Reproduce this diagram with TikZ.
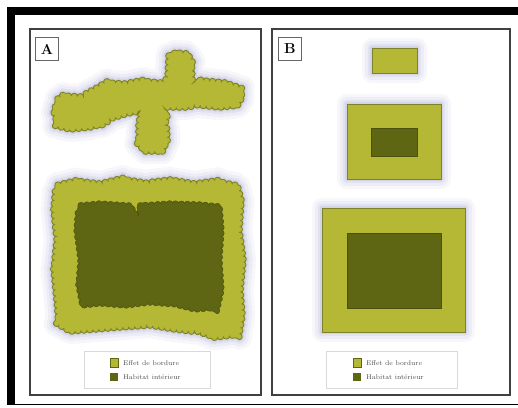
\documentclass[tikz,border=0pt]{standalone}
\usetikzlibrary{decorations.pathmorphing}
\definecolor{lightol}{HTML}{B4B834}
\definecolor{darkol}{HTML}{5E6614}
\definecolor{edgeol}{HTML}{7E8228}
\definecolor{glow}{HTML}{B4B4DA}
\tikzset{
  glowy/.style={
    preaction={draw=glow,line width=20pt,opacity=0.10,line join=round},
    preaction={draw=glow,line width=14pt,opacity=0.14,line join=round},
    preaction={draw=glow,line width=8pt,opacity=0.2,line join=round},
    preaction={draw=glow,line width=4pt,opacity=0.28,line join=round}},
  bumpy/.style={decorate,decoration={bumps,segment length=12pt,amplitude=2.4pt}},
  blob/.style={glowy,fill=lightol,draw=edgeol,line width=0.9pt},
  innerblob/.style={fill=darkol,draw=darkol!80!black,line width=0.5pt},
  rectout/.style={glowy,fill=lightol,draw=edgeol,line width=0.9pt},
  rectin/.style={fill=darkol,draw=darkol!80!black,line width=0.5pt},
  panel/.style={draw=black!75,line width=2pt},
  lettbox/.style={draw=black!60,line width=1.2pt,minimum width=23pt,minimum height=23pt,inner sep=0pt,font=\bfseries\Large},
  legbox/.style={draw=black!15,line width=0.6pt,fill=white},
  legsq/.style={minimum width=8pt,minimum height=8.5pt,inner sep=0pt},
  legtxt/.style={font=\fontsize{6.8}{7.5}\selectfont,text=black!70,anchor=west,inner sep=0pt}
}
\begin{document}
\begin{tikzpicture}[x=1pt,y=-1pt]
\useasboundingbox (0,0) rectangle (518,407);
\fill[white] (0,0) rectangle (518,407);
% outer black frame
\fill[black] (7,7) rectangle (518,15);
\fill[black] (7,7) rectangle (15,405);
\draw[black,line width=1.5pt] (15,404.5) -- (518,404.5);
% panels
\draw[panel] (30,29) rectangle (261,395);
\draw[panel] (272,29) rectangle (510,395);
\node[lettbox] (la) at (47,49) {A};
\node[lettbox] (lb) at (290,49) {B};
% ---- Panel A shapes
\path[blob,bumpy] (55,100) -- (62,95) -- (80,96) -- (95,88) -- (105,82) -- (125,83) -- (140,80) -- (160,82) -- (167,78) -- (168,58) -- (175,52) -- (188,53) -- (192,60) -- (193,78) -- (205,80) -- (225,82) -- (240,87) -- (243,97) -- (238,106) -- (220,108) -- (200,106) -- (185,108) -- (170,108) -- (167,120) -- (168,140) -- (163,152) -- (145,152) -- (138,145) -- (138,125) -- (140,112) -- (128,114) -- (115,118) -- (105,124) -- (90,128) -- (70,130) -- (58,127) -- (54,115) -- cycle;
\path[blob,bumpy] (55,185) -- (75,180) -- (100,183) -- (120,178) -- (145,182) -- (170,179) -- (195,183) -- (215,180) -- (238,185) -- (242,200) -- (240,230) -- (244,260) -- (241,290) -- (243,315) -- (240,335) -- (215,338) -- (200,333) -- (175,330) -- (150,326) -- (120,328) -- (95,330) -- (70,332) -- (58,325) -- (56,300) -- (53,270) -- (56,240) -- (53,210) -- cycle;
\path[innerblob,bumpy] (78,205) -- (100,203) -- (130,205) -- (135,212) -- (140,205) -- (170,203) -- (200,204) -- (220,206) -- (222,230) -- (220,260) -- (222,290) -- (218,308) -- (195,310) -- (175,305) -- (150,303) -- (125,306) -- (100,304) -- (82,306) -- (78,285) -- (80,260) -- (76,230) -- cycle;
% ---- Panel B shapes
\path[rectout] (372,48) rectangle (417,73);
\path[rectout] (347,104) rectangle (441,179);
\path[rectin] (371,128) rectangle (417,156);
\path[rectout] (322,208) rectangle (465,332);
\path[rectin] (347,233) rectangle (441,308);
% ---- legends
\path[legbox] (84,351) rectangle (210,388);
\node[legsq,fill=lightol,draw=darkol,line width=0.8pt] (sa1) at (114,363) {};
\node[legsq,fill=darkol] (sa2) at (114,377) {};
\node[legtxt] (ta1) at (123,363) {Effet de bordure};
\node[legtxt] (ta2) at (123,377) {Habitat intérieur};
\path[legbox] (326,351) rectangle (457,388);
\node[legsq,fill=lightol,draw=darkol,line width=0.8pt] (sb1) at (357,363) {};
\node[legsq,fill=darkol] (sb2) at (357,377) {};
\node[legtxt] (tb1) at (366,363) {Effet de bordure};
\node[legtxt] (tb2) at (366,377) {Habitat intérieur};
\end{tikzpicture}
\end{document}
